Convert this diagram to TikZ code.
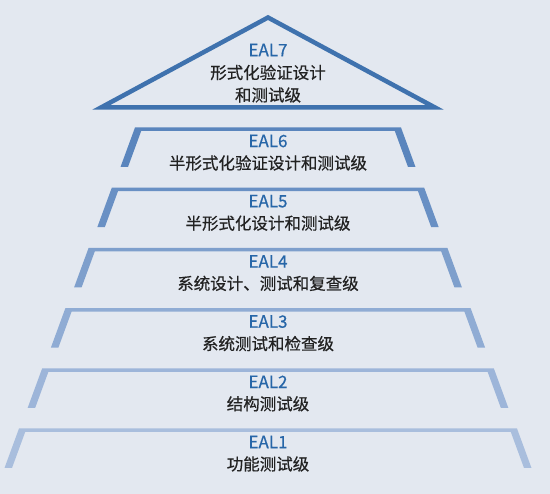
\documentclass[tikz,border=0pt]{standalone}
\usepackage{fontspec}
\setmainfont{Noto Sans CJK SC}
\newfontfamily\medfont[FakeBold=0.6]{Noto Sans CJK SC}
\definecolor{bg}{HTML}{E3E8F0}
\definecolor{tri}{HTML}{3F72AE}
\definecolor{lA}{HTML}{5A85BD}
\definecolor{lB}{HTML}{6990C4}
\definecolor{lC}{HTML}{7E9FCC}
\definecolor{lD}{HTML}{90ACD4}
\definecolor{lE}{HTML}{9DB5D9}
\definecolor{lF}{HTML}{A9BEDD}
\definecolor{ealblue}{HTML}{2766A8}
\definecolor{cntext}{HTML}{222222}
\begin{document}
\begin{tikzpicture}[x=1pt,y=-1pt,
  eal/.style={font=\medfont\fontsize{17}{20}\selectfont, text=ealblue, inner sep=0pt},
  cn/.style={font=\medfont\fontsize{16.5}{20}\selectfont, text=cntext, inner sep=0pt}]
\fill[bg] (0,0) rectangle (550,494);
\useasboundingbox (0,0) rectangle (550,494);
% top triangle
\draw[tri, line width=4.5pt, miter limit=30, line join=miter] (268,17.5) -- (435,107.5) -- (101,107.5) -- cycle;
\node[eal] (e7) at (268,50) {EAL7};
\node[cn] (c7a) at (268,72.5) {形式化验证设计};
\node[cn] (c7b) at (268,95) {和测试级};
% levels
\foreach \i/\c/\lab/\txt in {0/lA/EAL6/半形式化验证设计和测试级,1/lB/EAL5/半形式化设计和测试级,2/lC/EAL4/系统设计、测试和复查级,3/lD/EAL3/系统测试和检查级,4/lE/EAL2/结构测试级,5/lF/EAL1/功能测试级}{
  \pgfmathsetmacro{\T}{127.5+60.2*\i}
  \pgfmathsetmacro{\B}{\T+39.5}
  \pgfmathsetmacro{\TT}{\T+3.5}
  \pgfmathsetmacro{\L}{268-133-23.2*\i}
  \pgfmathsetmacro{\R}{268+133+23.2*\i}
  \fill[\c] (\L-14.5,\B) -- (\L,\T) -- (\R,\T) -- (\R+14.5,\B) -- (\R+7,\B)
     -- (\R-6.2,\TT) -- (\L+6.2,\TT) -- (\L-7,\B) -- cycle;
  \node[eal] (e\i) at (268,\T+13.5) {\lab};
  \node[cn] (c\i) at (268,\T+35.5) {\txt};
}
\end{tikzpicture}
\end{document}
